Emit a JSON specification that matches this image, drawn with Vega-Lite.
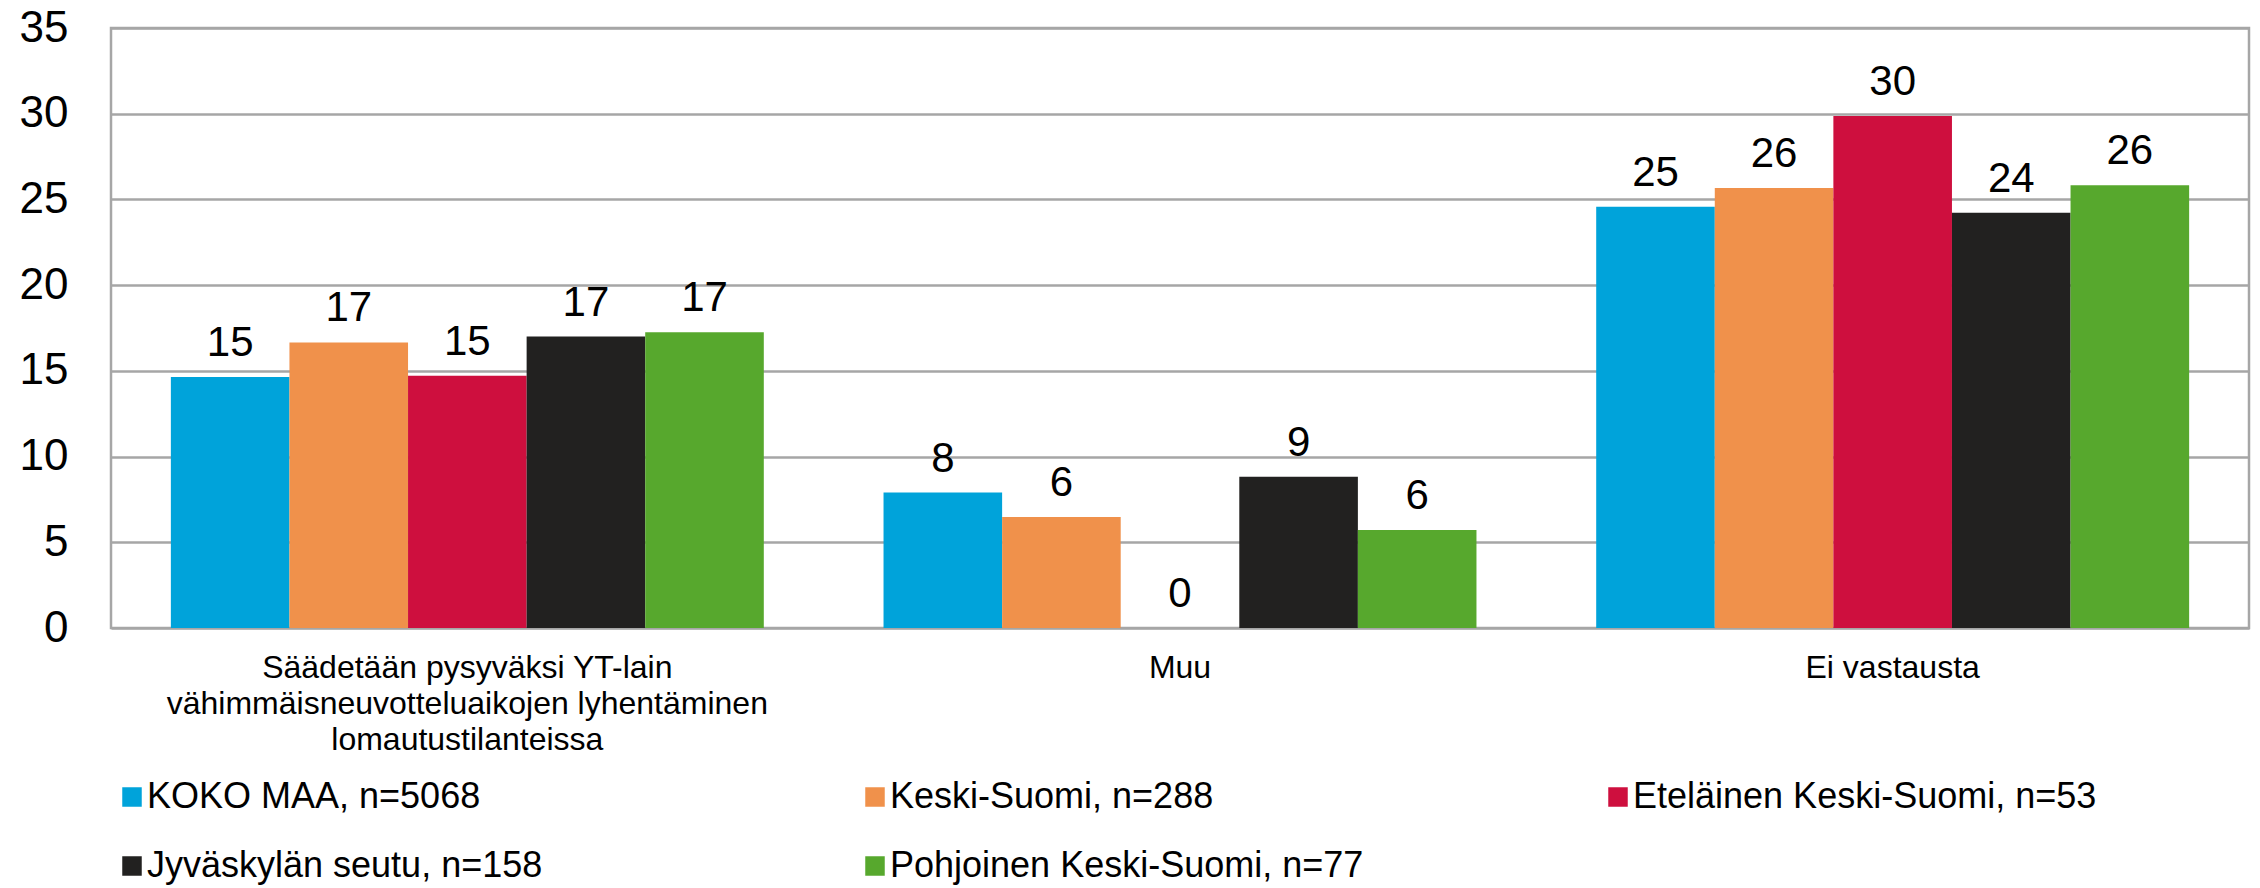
{
  "$schema": "https://vega.github.io/schema/vega-lite/v6.json",
  "width": 2138,
  "height": 600,
  "autosize": {"type": "none"},
  "padding": {"left": 111, "top": 28, "right": 11, "bottom": 260},
  "background": "white",
  "config": {
    "font": "Liberation Sans",
    "view": {"stroke": "#A6A6A6", "strokeWidth": 2.5},
    "axis": {"labelColor": "#000000"},
    "legend": {"labelColor": "#000000"}
  },
  "data": {
    "values": [
      {"kategoria": "Säädetään pysyväksi YT-lain\nvähimmäisneuvotteluaikojen lyhentäminen\nlomautustilanteissa", "alue": "KOKO MAA, n=5068", "arvo": 14.64},
      {"kategoria": "Säädetään pysyväksi YT-lain\nvähimmäisneuvotteluaikojen lyhentäminen\nlomautustilanteissa", "alue": "Keski-Suomi, n=288", "arvo": 16.66},
      {"kategoria": "Säädetään pysyväksi YT-lain\nvähimmäisneuvotteluaikojen lyhentäminen\nlomautustilanteissa", "alue": "Eteläinen Keski-Suomi, n=53", "arvo": 14.72},
      {"kategoria": "Säädetään pysyväksi YT-lain\nvähimmäisneuvotteluaikojen lyhentäminen\nlomautustilanteissa", "alue": "Jyväskylän seutu, n=158", "arvo": 17.0},
      {"kategoria": "Säädetään pysyväksi YT-lain\nvähimmäisneuvotteluaikojen lyhentäminen\nlomautustilanteissa", "alue": "Pohjoinen Keski-Suomi, n=77", "arvo": 17.25},
      {"kategoria": "Muu", "alue": "KOKO MAA, n=5068", "arvo": 7.9},
      {"kategoria": "Muu", "alue": "Keski-Suomi, n=288", "arvo": 6.48},
      {"kategoria": "Muu", "alue": "Eteläinen Keski-Suomi, n=53", "arvo": 0},
      {"kategoria": "Muu", "alue": "Jyväskylän seutu, n=158", "arvo": 8.83},
      {"kategoria": "Muu", "alue": "Pohjoinen Keski-Suomi, n=77", "arvo": 5.72},
      {"kategoria": "Ei vastausta", "alue": "KOKO MAA, n=5068", "arvo": 24.57},
      {"kategoria": "Ei vastausta", "alue": "Keski-Suomi, n=288", "arvo": 25.66},
      {"kategoria": "Ei vastausta", "alue": "Eteläinen Keski-Suomi, n=53", "arvo": 29.87},
      {"kategoria": "Ei vastausta", "alue": "Jyväskylän seutu, n=158", "arvo": 24.23},
      {"kategoria": "Ei vastausta", "alue": "Pohjoinen Keski-Suomi, n=77", "arvo": 25.83}
    ]
  },
  "encoding": {
    "x": {
      "field": "kategoria",
      "type": "nominal",
      "sort": null,
      "scale": {"paddingInner": 0.168, "paddingOuter": 0.084},
      "axis": {
        "title": null,
        "labelAngle": 0,
        "labelFontSize": 32,
        "labelPadding": 24,
        "labelLineHeight": 36,
        "labelLimit": 0,
        "ticks": false,
        "domain": false,
        "labelExpr": "split(datum.label, '\\n')"
      }
    },
    "xOffset": {
      "field": "alue",
      "type": "nominal",
      "sort": ["KOKO MAA, n=5068", "Keski-Suomi, n=288", "Eteläinen Keski-Suomi, n=53", "Jyväskylän seutu, n=158", "Pohjoinen Keski-Suomi, n=77"],
      "scale": {"paddingInner": 0, "paddingOuter": 0}
    },
    "y": {
      "field": "arvo",
      "type": "quantitative",
      "scale": {"domain": [0, 35], "nice": false},
      "axis": {
        "title": null,
        "values": [0, 5, 10, 15, 20, 25, 30, 35],
        "labelFontSize": 44,
        "labelPadding": 43,
        "ticks": false,
        "domain": false,
        "gridColor": "#A6A6A6",
        "gridWidth": 2.5
      }
    }
  },
  "layer": [
    {
      "mark": {"type": "bar"},
      "encoding": {
        "color": {
          "field": "alue",
          "type": "nominal",
          "sort": ["KOKO MAA, n=5068", "Keski-Suomi, n=288", "Eteläinen Keski-Suomi, n=53", "Jyväskylän seutu, n=158", "Pohjoinen Keski-Suomi, n=77"],
          "scale": {
            "domain": ["KOKO MAA, n=5068", "Keski-Suomi, n=288", "Eteläinen Keski-Suomi, n=53", "Jyväskylän seutu, n=158", "Pohjoinen Keski-Suomi, n=77"],
            "range": ["#00A3DA", "#F0914B", "#CE0F3E", "#222120", "#57A82D"]
          },
          "legend": {
            "orient": "none",
            "legendX": 3,
            "legendY": 751,
            "direction": "horizontal",
            "columns": 3,
            "gridAlign": "all",
            "title": null,
            "symbolType": "square",
            "symbolSize": 380,
            "symbolStrokeWidth": 0,
            "labelFontSize": 36,
            "labelOffset": -3,
            "columnPadding": 236,
            "rowPadding": 33,
            "labelLimit": 0
          }
        }
      }
    },
    {
      "mark": {"type": "text", "baseline": "alphabetic", "dy": -21, "fontSize": 42, "color": "#000000"},
      "encoding": {
        "text": {"field": "arvo", "type": "quantitative", "format": ".0f"}
      }
    }
  ]
}
